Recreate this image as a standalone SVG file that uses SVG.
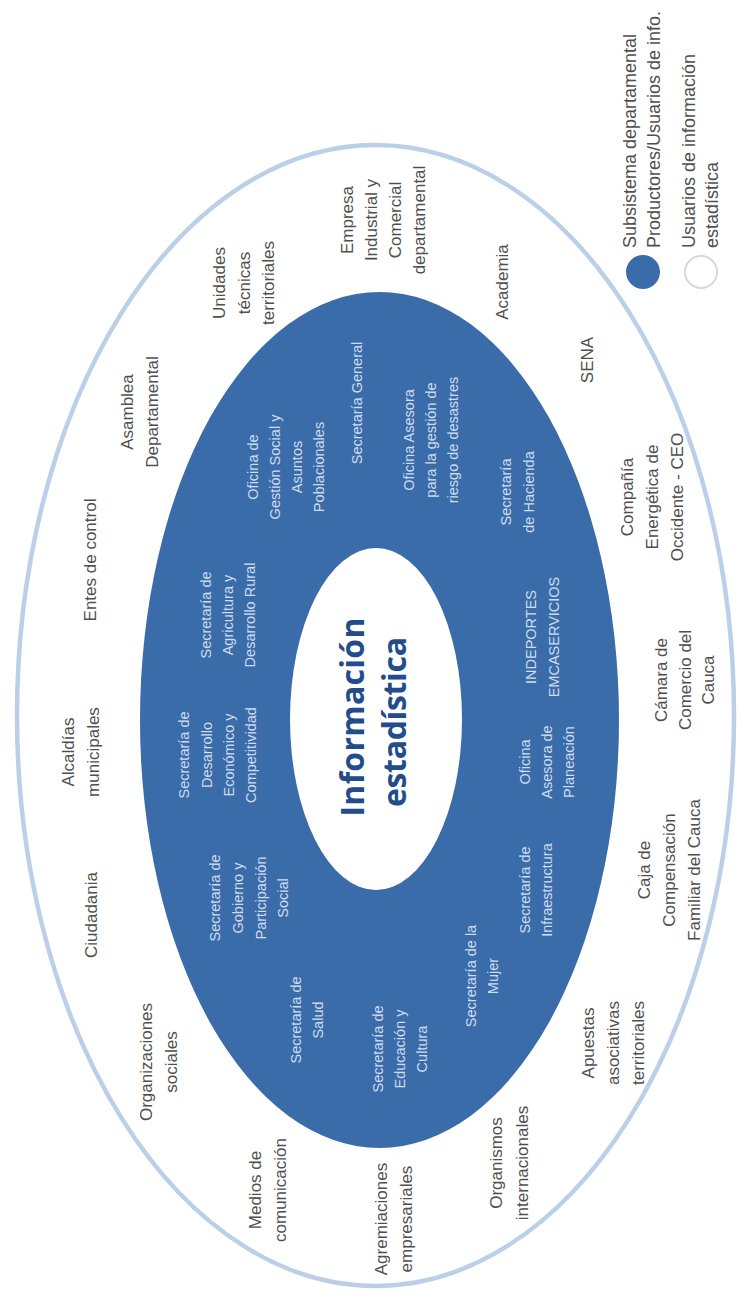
<svg xmlns="http://www.w3.org/2000/svg" width="742" height="1295" viewBox="0 0 742 1295">
<style>
.o{font-family:"Liberation Sans",Arial,sans-serif;font-size:17px;fill:#4f4f4f;text-anchor:middle}
.i{font-family:"Liberation Sans",Arial,sans-serif;font-size:14.5px;fill:#cfdcef;text-anchor:middle}
.lg{font-family:"Liberation Sans",Arial,sans-serif;font-size:18px;fill:#4f4f4f;text-anchor:start}
.t{font-family:"Open Sans","Liberation Sans",sans-serif;font-weight:700;font-size:32px;fill:#224c8b;text-anchor:middle}
</style>
<rect width="742" height="1295" fill="#ffffff"/>
<g transform="translate(0,1295) rotate(-90)">
  <g id="outer-ring"><ellipse cx="579.5" cy="375.5" rx="570.5" ry="358.5" fill="none" stroke="#bccfe9" stroke-width="4.5"/></g>
  <g id="subsistema"><ellipse cx="575" cy="379.5" rx="428" ry="239.5" fill="#3b6caa"/></g>
  <g id="centro"><ellipse cx="576" cy="376" rx="171" ry="86" fill="#ffffff"/>
    <text class="t"><tspan x="578" y="364" textLength="199">Información</tspan><tspan x="573" y="406" textLength="170">estadística</tspan></text></g>
  <g id="connectors"/>
  <g id="legend">
    <circle cx="1023" cy="643" r="17" fill="#3b6caa"/>
    <text class="lg"><tspan x="1047" y="636">Subsistema departamental</tspan><tspan x="1047" y="660">Productores/Usuarios de info.</tspan></text>
    <circle cx="1023" cy="701" r="16" fill="#ffffff" stroke="#d3d9e3" stroke-width="2"/>
    <text class="lg"><tspan x="1047" y="695">Usuarios de información</tspan><tspan x="1047" y="718">estadística</tspan></text>
  </g>
  <g id="n-unidades"><text class="o"><tspan x="1012" y="225">Unidades</tspan><tspan x="1012" y="250">técnicas</tspan><tspan x="1012" y="274">territoriales</tspan></text></g>
  <g id="n-empresa"><text class="o"><tspan x="1075" y="353">Empresa</tspan><tspan x="1075" y="377">Industrial y</tspan><tspan x="1075" y="401">Comercial</tspan><tspan x="1075" y="425">departamental</tspan></text></g>
  <g id="n-academia"><text class="o"><tspan x="1013" y="508">Academia</tspan></text></g>
  <g id="n-asamblea"><text class="o"><tspan x="883" y="133">Asamblea</tspan><tspan x="883" y="158">Departamental</tspan></text></g>
  <g id="n-sena"><text class="o"><tspan x="935" y="593">SENA</tspan></text></g>
  <g id="n-entes"><text class="o"><tspan x="735" y="96">Entes de control</tspan></text></g>
  <g id="n-ceo"><text class="o"><tspan x="798" y="633">Compañía</tspan><tspan x="798" y="658">Energética de</tspan><tspan x="798" y="683">Occidente - CEO</tspan></text></g>
  <g id="n-alcaldias"><text class="o"><tspan x="543" y="74">Alcaldías</tspan><tspan x="543" y="99">municipales</tspan></text></g>
  <g id="n-camara"><text class="o"><tspan x="615" y="667">Cámara de</tspan><tspan x="615" y="691">Comercio del</tspan><tspan x="615" y="714">Cauca</tspan></text></g>
  <g id="n-ciudadania"><text class="o"><tspan x="380" y="97">Ciudadania</tspan></text></g>
  <g id="n-caja"><text class="o"><tspan x="425" y="650">Caja de</tspan><tspan x="425" y="675">Compensación</tspan><tspan x="425" y="700">Familiar del Cauca</tspan></text></g>
  <g id="n-organizaciones"><text class="o"><tspan x="233" y="152">Organizaciones</tspan><tspan x="233" y="177">sociales</tspan></text></g>
  <g id="n-apuestas"><text class="o"><tspan x="252" y="594">Apuestas</tspan><tspan x="252" y="619">asociativas</tspan><tspan x="252" y="644">territoriales</tspan></text></g>
  <g id="n-medios"><text class="o"><tspan x="105" y="261">Medios de</tspan><tspan x="105" y="286">comunicación</tspan></text></g>
  <g id="n-agremiaciones"><text class="o"><tspan x="76" y="387">Agremiaciones</tspan><tspan x="76" y="412">empresariales</tspan></text></g>
  <g id="n-organismos"><text class="o"><tspan x="132" y="502">Organismos</tspan><tspan x="132" y="528">internacionales</tspan></text></g>
  <g id="n-agricultura"><text class="i"><tspan x="680" y="211">Secretaría de</tspan><tspan x="680" y="233">Agricultura y</tspan><tspan x="680" y="255">Desarrollo Rural</tspan></text></g>
  <g id="n-gestion-social"><text class="i"><tspan x="828" y="258">Oficina de</tspan><tspan x="828" y="280">Gestión Social y</tspan><tspan x="828" y="302">Asuntos</tspan><tspan x="828" y="324">Poblacionales</tspan></text></g>
  <g id="n-general"><text class="i"><tspan x="892" y="362">Secretaría General</tspan></text></g>
  <g id="n-riesgo"><text class="i"><tspan x="855" y="414">Oficina Asesora</tspan><tspan x="855" y="436">para la gestión de</tspan><tspan x="855" y="458">riesgo de desastres</tspan></text></g>
  <g id="n-hacienda"><text class="i"><tspan x="803" y="511">Secretaría</tspan><tspan x="803" y="534">de Hacienda</tspan></text></g>
  <g id="n-indeportes"><text class="i"><tspan x="658" y="536">INDEPORTES</tspan><tspan x="658" y="559">EMCASERVICIOS</tspan></text></g>
  <g id="n-desarrollo"><text class="i"><tspan x="540" y="189">Secretaría de</tspan><tspan x="540" y="212">Desarrollo</tspan><tspan x="540" y="234">Económico y</tspan><tspan x="540" y="256">Competitividad</tspan></text></g>
  <g id="n-gobierno"><text class="i"><tspan x="397" y="220">Secretaría de</tspan><tspan x="397" y="243">Gobierno y</tspan><tspan x="397" y="266">Participación</tspan><tspan x="397" y="288">Social</tspan></text></g>
  <g id="n-planeacion"><text class="i"><tspan x="533" y="530">Oficina</tspan><tspan x="533" y="552">Asesora de</tspan><tspan x="533" y="574">Planeación</tspan></text></g>
  <g id="n-infraestructura"><text class="i"><tspan x="405" y="530">Secretaría de</tspan><tspan x="405" y="552">Infraestructura</tspan></text></g>
  <g id="n-salud"><text class="i"><tspan x="275" y="301">Secretaría de</tspan><tspan x="275" y="323">Salud</tspan></text></g>
  <g id="n-educacion"><text class="i"><tspan x="246" y="383">Secretaría de</tspan><tspan x="246" y="405">Educación y</tspan><tspan x="246" y="427">Cultura</tspan></text></g>
  <g id="n-mujer"><text class="i"><tspan x="319" y="476">Secretaría de la</tspan><tspan x="319" y="498">Mujer</tspan></text></g>
</g>
</svg>
